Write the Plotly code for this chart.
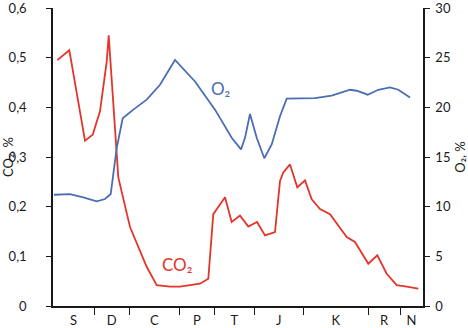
import plotly.graph_objects as go

# x positions in arbitrary distance units along the transect
co2_x = [0.43, 1.63, 3.2, 3.97, 4.7, 5.37, 5.57, 6.53, 7.7, 9.37, 10.37, 11.7, 12.7, 14.7, 15.53,
         16.03, 16.37, 17.2, 17.87, 18.7, 19.53, 20.4, 21.2, 22.2, 22.7, 23.03, 23.7, 24.43, 25.2,
         25.87, 26.7, 27.7, 29.37, 30.2, 31.53, 32.43, 33.37, 34.37, 35.37, 36.53]
co2_y = [0.495, 0.515, 0.333, 0.345, 0.392, 0.492, 0.545, 0.259, 0.159, 0.079, 0.042, 0.039, 0.039,
         0.045, 0.055, 0.185, 0.195, 0.219, 0.169, 0.182, 0.160, 0.169, 0.142, 0.149, 0.252, 0.269,
         0.285, 0.239, 0.253, 0.215, 0.195, 0.185, 0.139, 0.129, 0.085, 0.102, 0.065, 0.042, 0.039, 0.035]

o2_x = [0.1, 1.7, 3.03, 4.37, 5.2, 5.77, 6.37, 6.97, 8.03, 9.37, 10.7, 12.2, 14.2, 16.2, 17.87,
        18.8, 19.2, 19.7, 20.37, 21.13, 21.87, 22.7, 23.37, 25.2, 26.2, 27.87, 29.7, 30.37, 31.47,
        32.53, 33.7, 34.53, 35.7]
o2_y = [11.2, 11.27, 10.93, 10.53, 10.77, 11.27, 15.9, 18.9, 19.77, 20.77, 22.27, 24.77, 22.6, 19.77,
        16.93, 15.77, 16.93, 19.33, 16.93, 14.87, 16.27, 19.1, 20.87, 20.93, 20.93, 21.17, 21.77,
        21.67, 21.27, 21.77, 22.0, 21.77, 21.0]

zone_bounds = [0, 4.13, 7.63, 12.63, 16.13, 20.13, 25.03, 31.53, 34.7, 37]
zone_labels = ["S", "D", "C", "P", "T", "J", "K", "R", "N"]
zone_centers = [(a + b) / 2 for a, b in zip(zone_bounds[:-1], zone_bounds[1:])]

co2_ticks = [0, 0.1, 0.2, 0.3, 0.4, 0.5, 0.6]
co2_ticktext = ["0", "0,1", "0,2", "0,3", "0,4", "0,5", "0,6"]
o2_ticks = [0, 5, 10, 15, 20, 25, 30]

RED = "#e4352b"
BLUE = "#4a6db3"
AX = "#1a1a1a"
FONT = "Lato"

fig = go.Figure()
fig.add_trace(go.Scatter(x=co2_x, y=co2_y, mode="lines", line=dict(color=RED, width=1.8),
                         yaxis="y", showlegend=False, hoverinfo="skip"))
fig.add_trace(go.Scatter(x=o2_x, y=o2_y, mode="lines", line=dict(color=BLUE, width=1.8),
                         yaxis="y2", showlegend=False, hoverinfo="skip"))

fig.update_layout(
    width=468, height=328,
    margin=dict(l=53, r=45, t=8, b=22),
    paper_bgcolor="white", plot_bgcolor="white",
    font=dict(family=FONT, size=14, color=AX),
    xaxis=dict(range=[0, 37], showgrid=False, zeroline=False, showline=True,
               linecolor=AX, linewidth=1.5, automargin=False,
               tickmode="array", tickvals=zone_centers, ticktext=zone_labels, ticks="",
               tickfont=dict(size=13), ticklabelstandoff=2, ticklabeloverflow="allow",
               minor=dict(tickmode="array", tickvals=zone_bounds[1:-1], ticks="outside",
                          ticklen=7, tickcolor=AX, tickwidth=1.2, showgrid=False)),
    yaxis=dict(range=[0, 0.6], showgrid=False, zeroline=False, showline=True,
               linecolor=AX, linewidth=1.5, ticks="outside", ticklen=5, tickcolor=AX,
               tickwidth=1.2, tickmode="array", tickvals=co2_ticks, ticktext=co2_ticktext,
               ticklabelstandoff=17, automargin=False, tickfont=dict(size=13),
               ticklabeloverflow="allow",
               title=dict(text="CO₂, %", font=dict(size=13), standoff=4)),
    yaxis2=dict(range=[0, 30], overlaying="y", side="right", showgrid=False, zeroline=False,
                showline=True, linecolor=AX, linewidth=1.5, ticks="outside", ticklen=5,
                tickcolor=AX, tickwidth=1.2, tickmode="array", tickvals=o2_ticks,
                ticklabelstandoff=3, automargin=False, tickfont=dict(size=13),
                ticklabeloverflow="allow",
                title=dict(text="O₂, %", font=dict(size=13), standoff=6)),
    annotations=[
        dict(x=16.7, y=0.438, xref="x", yref="y", text="O₂", showarrow=False,
             font=dict(size=17, color=BLUE, family=FONT)),
        dict(x=12.4, y=0.084, xref="x", yref="y", text="CO₂", showarrow=False,
             font=dict(size=17, color=RED, family=FONT)),
    ],
)

fig.write_html("out.html", config={"displayModeBar": False},
               post_script="document.body.style.margin='0';document.body.style.padding='0';")
